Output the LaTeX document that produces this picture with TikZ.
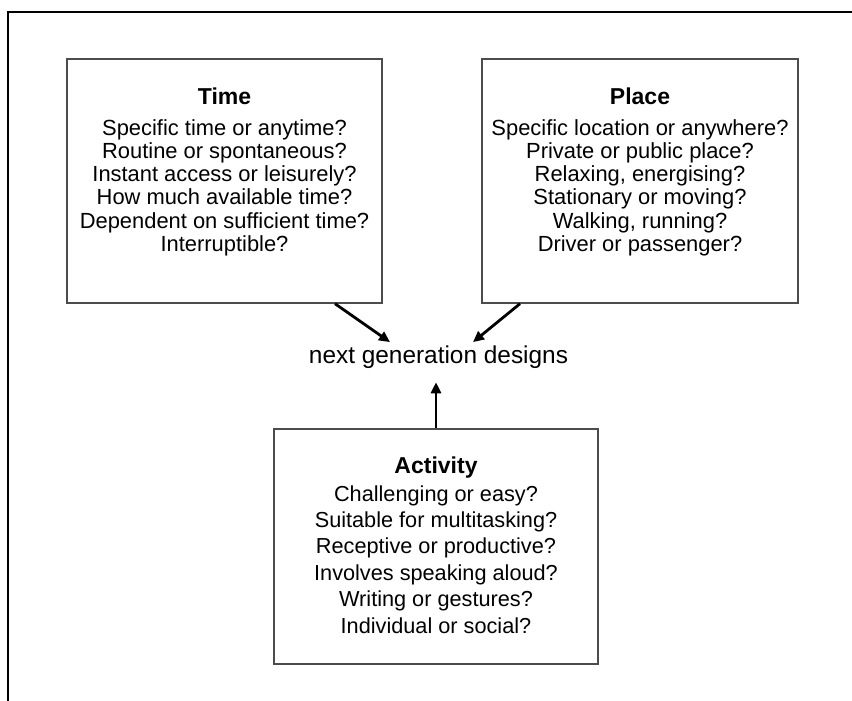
\documentclass[tikz,border=0pt]{standalone}
\usepackage{fontspec}
\setmainfont{Liberation Sans}
\usetikzlibrary{arrows.meta}
\tikzset{
  frame/.style={line width=2.6pt, black},
  box/.style={draw=black!70, line width=1.4pt, fill=white, inner sep=0pt},
  ttl/.style={anchor=base, inner sep=0pt, font=\fontsize{23pt}{26pt}\selectfont\bfseries},
  bodyA/.style={anchor=base, inner sep=0pt, align=center, font=\fontsize{21.9pt}{23.3pt}\selectfont},
  bodyB/.style={anchor=base, inner sep=0pt, align=center, font=\fontsize{21.7pt}{26.4pt}\selectfont},
  lbl/.style={anchor=base, inner sep=3pt, font=\fontsize{24.4pt}{28pt}\selectfont},
  arr/.style={line width=2.8pt, -{Triangle[length=11pt,width=10pt]}}
}
\begin{document}
\begin{tikzpicture}[x=1pt,y=-1pt]
\useasboundingbox (0,0) rectangle (852,701);
% outer frame
\coordinate (fb) at (8,701);
\coordinate (fc) at (8,12);
\coordinate (fr) at (852,12);
\draw[frame] (fb) -- (fc) -- (fr);
% boxes
\node[box, minimum width=315pt, minimum height=244pt] (time) at (224.5,181) {};
\node[box, minimum width=316pt, minimum height=244pt] (place) at (640,181) {};
\node[box, minimum width=324pt, minimum height=235pt] (activity) at (436,546.5) {};
% titles
\node[ttl] (timettl) at (224.5,104) {Time};
\node[ttl] (placettl) at (640,104) {Place};
\node[ttl] (actttl) at (436,473) {Activity};
% bodies (base anchor = baseline of last line)
\node[bodyA] (timebody) at (224.5,251.5) {Specific time or anytime?\\Routine or spontaneous?\\Instant access or leisurely?\\How much available time?\\Dependent on sufficient time?\\Interruptible?};
\node[bodyA] (placebody) at (640,251.5) {Specific location or anywhere?\\Private or public place?\\Relaxing, energising?\\Stationary or moving?\\Walking, running?\\Driver or passenger?};
\node[bodyB] (actbody) at (436,633) {Challenging or easy?\\Suitable for multitasking?\\Receptive or productive?\\Involves speaking aloud?\\Writing or gestures?\\Individual or social?};
% centre label
\node[lbl] (label) at (438.5,363) {next generation designs};
% arrows
\draw[arr] ([xshift=110.5pt]time.south) -- ([xshift=-48.5pt]label.north);
\draw[arr] ([xshift=-120pt]place.south) -- ([xshift=34.5pt]label.north);
\draw[arr] (activity.north) -- ([xshift=-2.5pt,yshift=-11pt]label.south);
\end{tikzpicture}
\end{document}
